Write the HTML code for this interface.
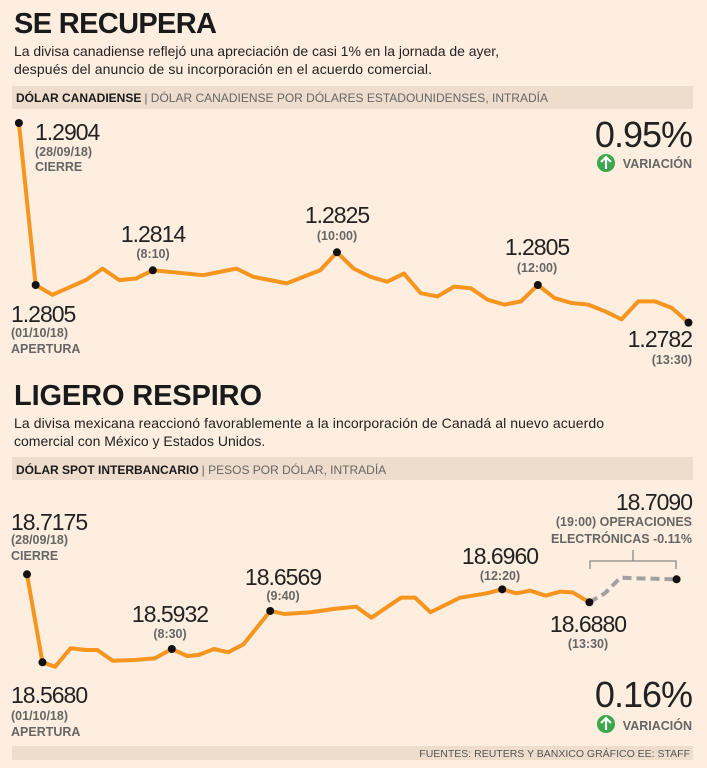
<!DOCTYPE html>
<html><head><meta charset="utf-8"><style>
html,body{margin:0;padding:0;background:#fdeee0;}
svg{display:block;font-family:"Liberation Sans",sans-serif;}
.t{font-weight:bold;font-size:29px;fill:#1a1a1a}
.s{font-size:14px;fill:#222}
.hb{font-size:12px;font-weight:bold;fill:#1a1a1a}
.hn{font-size:12px;fill:#666}
.big{font-size:23px;fill:#222;letter-spacing:-1px}
.sm{font-size:12.5px;font-weight:bold;fill:#666}
.pct{font-size:36px;fill:#222;letter-spacing:-1px}
</style></head><body>
<svg id="c" width="707" height="768" viewBox="0 0 707 768">
<rect width="707" height="768" fill="#fdeee0"/>
<text x="14" y="33" class="t" textLength="203">SE RECUPERA</text>
<text x="14" y="56" class="s" textLength="485">La divisa canadiense reflejó una apreciación de casi 1% en la jornada de ayer,</text>
<text x="14" y="74" class="s" textLength="418">después del anuncio de su incorporación en el acuerdo comercial.</text>
<rect x="12" y="86" width="681" height="23" fill="#eedccc"/>
<text x="16" y="102"><tspan class="hb">DÓLAR CANADIENSE</tspan><tspan class="hn" dx="3">| DÓLAR CANADIENSE POR DÓLARES ESTADOUNIDENSES, INTRADÍA</tspan></text>
<g id="g1"></g>
<text x="35" y="140" class="big">1.2904</text>
<text x="35" y="156" class="sm">(28/09/18)</text>
<text x="35" y="171" class="sm">CIERRE</text>
<text x="11" y="322" class="big">1.2805</text>
<text x="11" y="337" class="sm">(01/10/18)</text>
<text x="11" y="353" class="sm">APERTURA</text>
<text x="153" y="242" class="big" text-anchor="middle">1.2814</text>
<text x="153" y="258" class="sm" text-anchor="middle">(8:10)</text>
<text x="337" y="223" class="big" text-anchor="middle">1.2825</text>
<text x="337" y="240" class="sm" text-anchor="middle">(10:00)</text>
<text x="537" y="255" class="big" text-anchor="middle">1.2805</text>
<text x="537" y="272" class="sm" text-anchor="middle">(12:00)</text>
<text x="692" y="347" class="big" text-anchor="end">1.2782</text>
<text x="692" y="364" class="sm" text-anchor="end">(13:30)</text>
<text x="692" y="147" class="pct" text-anchor="end">0.95%</text>
<g><circle cx="606" cy="163" r="9" fill="#3aa84a"/><path d="M606 169 V157 M601 162 L606 157 L611 162" stroke="#fff" stroke-width="2.2" fill="none"/></g>
<text x="692" y="168" class="sm" text-anchor="end">VARIACIÓN</text>

<text x="14" y="405" class="t" textLength="248">LIGERO RESPIRO</text>
<text x="14" y="428" class="s" textLength="590">La divisa mexicana reaccionó favorablemente a la incorporación de Canadá al nuevo acuerdo</text>
<text x="14" y="446" class="s">comercial con México y Estados Unidos.</text>
<rect x="12" y="457" width="681" height="23" fill="#eedccc"/>
<text x="16" y="474"><tspan class="hb">DÓLAR SPOT INTERBANCARIO</tspan><tspan class="hn" dx="3">| PESOS POR DÓLAR, INTRADÍA</tspan></text>
<g stroke="#888" stroke-width="1.3" fill="none"><path d="M590 569 V561 H676 V569 M633 561 V550"/></g>
<g id="g2"></g>
<text x="11" y="530" class="big">18.7175</text>
<text x="11" y="544" class="sm">(28/09/18)</text>
<text x="11" y="560" class="sm">CIERRE</text>
<text x="11" y="703" class="big">18.5680</text>
<text x="11" y="720" class="sm">(01/10/18)</text>
<text x="11" y="736" class="sm">APERTURA</text>
<text x="170" y="622" class="big" text-anchor="middle">18.5932</text>
<text x="170" y="638" class="sm" text-anchor="middle">(8:30)</text>
<text x="283" y="585" class="big" text-anchor="middle">18.6569</text>
<text x="283" y="600" class="sm" text-anchor="middle">(9:40)</text>
<text x="500" y="564" class="big" text-anchor="middle">18.6960</text>
<text x="500" y="580" class="sm" text-anchor="middle">(12:20)</text>
<text x="588" y="632" class="big" text-anchor="middle">18.6880</text>
<text x="588" y="648" class="sm" text-anchor="middle">(13:30)</text>
<text x="692" y="510" class="big" text-anchor="end">18.7090</text>
<text x="692" y="526" class="sm" text-anchor="end">(19:00) OPERACIONES</text>
<text x="692" y="543" class="sm" text-anchor="end">ELECTRÓNICAS -0.11%</text>
<text x="692" y="707" class="pct" text-anchor="end">0.16%</text>
<g><circle cx="606" cy="724" r="9" fill="#3aa84a"/><path d="M606 730 V718 M601 723 L606 718 L611 723" stroke="#fff" stroke-width="2.2" fill="none"/></g>
<text x="692" y="730" class="sm" text-anchor="end">VARIACIÓN</text>
<rect x="12" y="746" width="681" height="14" fill="#eedccc"/>
<text x="690" y="757" font-size="10.5" fill="#555" text-anchor="end">FUENTES: REUTERS Y BANXICO GRÁFICO EE: STAFF</text>
</svg>
<script>
const cadTime=[0,1,2,4,5,6,7,8,11,13,14,16,18,19,20,21,22,23,24,25,26,27,28,29,30,31,32,33,34,35,36,37,38,39,40];
const cadValues=[1.2904,1.2805,1.2799,1.2808,1.2815,1.2808,1.2809,1.2814,1.2811,1.2815,1.2810,1.2806,1.2814,1.2825,1.2815,1.2810,1.2807,1.2812,1.2800,1.2798,1.2804,1.2803,1.2796,1.2793,1.2795,1.2805,1.2797,1.2794,1.2793,1.2789,1.2784,1.2795,1.2795,1.2791,1.2782];
const cadMarked=[0,1,7,13,25,34];
const mxnTime=[0,1.1,2,3.1,4.2,5,6.1,7.7,9.1,10.3,11.4,12.2,13.3,14.3,15.4,17.3,18.3,20.2,21.8,23.4,24.5,26.6,27.6,28.7,30.8,32.7,33.8,34.8,35.8,36.9,37.9,38.8,40];
const mxnValues=[18.7175,18.5680,18.5605,18.5918,18.5889,18.5889,18.5707,18.5719,18.5748,18.5906,18.5787,18.5804,18.5906,18.5850,18.5986,18.6552,18.6501,18.6530,18.6586,18.6625,18.6438,18.6778,18.6778,18.6530,18.6778,18.6852,18.6920,18.6852,18.6897,18.6812,18.6880,18.6869,18.6700];
const mxnMarked=[0,1,9,15,26,32];
const extTime=[40,41.1,42.2,43.3,46.2];
const extValues=[18.6700,18.6852,18.7117,18.7107,18.7090];
const NS='http://www.w3.org/2000/svg';
function sx1(t){return 18.9+t*16.74;}
function sy1(v){return 285-(v-1.2805)*16364;}
function sx2(t){return 27+t*14.06;}
function sy2(v){return 662.3-(v-18.568)*588.6;}
function line(g,ts,vs,sx,sy,color,dash,name){
  const p=document.createElementNS(NS,'polyline');
  p.setAttribute('points',ts.map((t,i)=>sx(t)+','+sy(vs[i])).join(' '));
  p.setAttribute('fill','none');p.setAttribute('stroke',color);p.setAttribute('stroke-width','4');
  p.setAttribute('stroke-linejoin','round');
  if(dash)p.setAttribute('stroke-dasharray',dash);
  
  
  g.appendChild(p);
}
function dots(g,ts,vs,idx,sx,sy){
  idx.forEach(i=>{
    const c=document.createElementNS(NS,'circle');
    c.setAttribute('cx',sx(ts[i]));c.setAttribute('cy',sy(vs[i]));c.setAttribute('r','4');c.setAttribute('fill','#111');
    
    
    g.appendChild(c);
  });
}
const g1=document.getElementById('g1'),g2=document.getElementById('g2');
line(g1,cadTime,cadValues,sx1,sy1,'#f7951e',null,'cad-line');
dots(g1,cadTime,cadValues,cadMarked,sx1,sy1);
line(g2,extTime,extValues,sx2,sy2,'#a0a0a0','9,5','mxn-electronic-line');
line(g2,mxnTime,mxnValues,sx2,sy2,'#f7951e',null,'mxn-line');
dots(g2,mxnTime,mxnValues,mxnMarked,sx2,sy2);
dots(g2,extTime,extValues,[4],sx2,sy2);
</script>
</body></html>
